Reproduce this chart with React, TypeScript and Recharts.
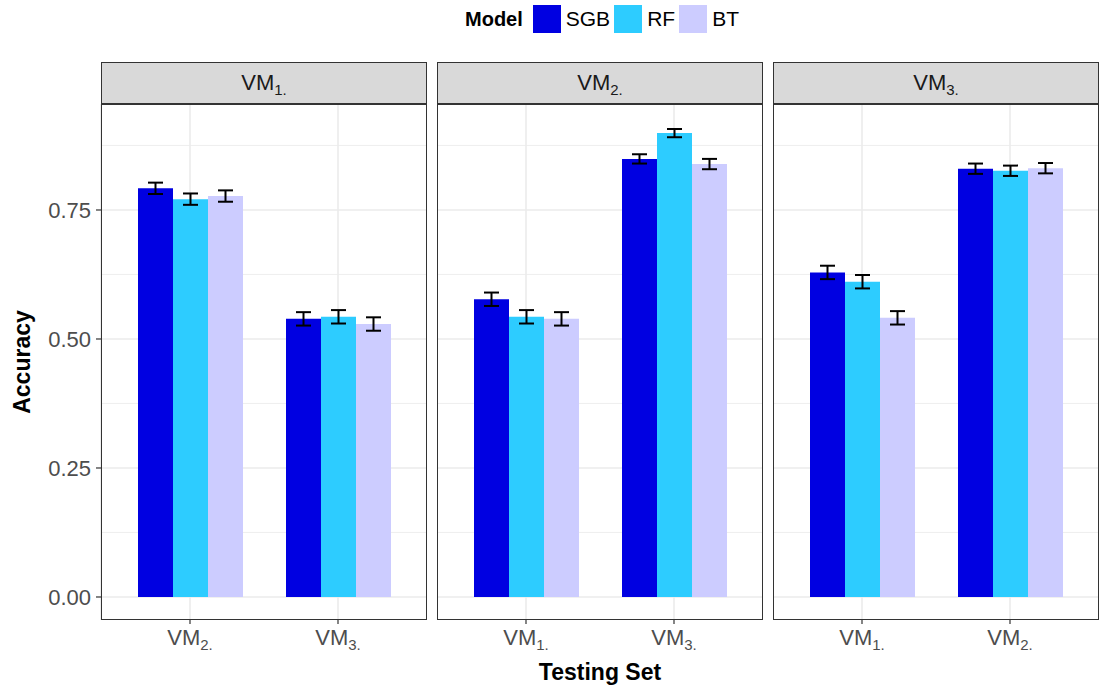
import React from 'react';
import {
  BarChart, Bar, XAxis, YAxis, CartesianGrid, ErrorBar,
} from 'recharts';

// facet = validation model, x = testing set; subscript part of each "VM" label
const facets = ['1.', '2.', '3.'];
const testingSets = [['2.', '3.'], ['1.', '3.'], ['1.', '2.']];

const sgb = [[0.792, 0.539], [0.577, 0.849], [0.629, 0.830]];
const rf = [[0.771, 0.543], [0.543, 0.899], [0.611, 0.826]];
const bt = [[0.777, 0.529], [0.539, 0.839], [0.541, 0.831]];

const sgbErr = [[0.011, 0.013], [0.013, 0.009], [0.013, 0.010]];
const rfErr = [[0.011, 0.013], [0.013, 0.008], [0.013, 0.010]];
const btErr = [[0.011, 0.013], [0.013, 0.010], [0.013, 0.010]];

const majorTicks = [0, 0.25, 0.5, 0.75];
const minorTicks = [0.125, 0.375, 0.625, 0.875];

const models = [
  { key: 'SGB', color: '#0000E1' },
  { key: 'RF', color: '#2DCCFF' },
  { key: 'BT', color: '#CCCCFF' },
];

const FONT = '"Liberation Sans", Arimo, Helvetica, Arial, sans-serif';
const Y_DOMAIN: [number, number] = [-0.0446, 0.9554];

const PLOT_TOP = 104;
const PLOT_H = 516;
const X_AXIS_H = 40;
const PANEL_W = 326;
const panelLeft = [101, 437, 773];

function rowsFor(i: number) {
  return testingSets[i].map((s, j) => ({
    set: s,
    SGB: sgb[i][j], SGBErr: sgbErr[i][j],
    RF: rf[i][j], RFErr: rfErr[i][j],
    BT: bt[i][j], BTErr: btErr[i][j],
  }));
}

function VMTick({ x, y, payload }: any) {
  return (
    <text x={x} y={y} dy={19} textAnchor="middle" fill="#4D4D4D" fontSize={22} fontFamily={FONT}>
      VM<tspan dy={5} fontSize={15}>{payload.value}</tspan>
    </text>
  );
}

function Panel({ i }: { i: number }) {
  const withAxis = i === 0;
  const yW = withAxis ? panelLeft[0] : 0;
  return (
    <div style={{ position: 'absolute', left: panelLeft[i] - yW, top: PLOT_TOP }}>
      <BarChart
        width={PANEL_W + yW}
        height={PLOT_H + X_AXIS_H}
        data={rowsFor(i)}
        margin={{ top: 0, right: 0, bottom: 0, left: 0 }}
        barCategoryGap={22}
        barGap={0}
      >
        <CartesianGrid stroke="#EBEBEB" strokeWidth={0.8} horizontalValues={minorTicks} vertical={false} />
        <CartesianGrid stroke="#EBEBEB" strokeWidth={1.6} horizontalValues={majorTicks} />
        <XAxis
          dataKey="set"
          padding={{ left: 15, right: 15 }}
          height={X_AXIS_H}
          axisLine={false}
          tickSize={4}
          tickMargin={2}
          tickLine={{ stroke: '#333333', strokeWidth: 1.2 }}
          tick={<VMTick />}
        />
        <YAxis
          hide={!withAxis}
          width={yW || 60}
          domain={Y_DOMAIN}
          allowDataOverflow
          ticks={majorTicks}
          tickFormatter={(v: number) => v.toFixed(2)}
          axisLine={false}
          tickSize={5}
          tickMargin={5}
          tickLine={{ stroke: '#333333', strokeWidth: 1.2 }}
          tick={{ fill: '#4D4D4D', fontSize: 22, fontFamily: FONT }}
        />
        {models.map(m => (
          <Bar key={m.key} dataKey={m.key} fill={m.color} isAnimationActive={false}>
            <ErrorBar dataKey={`${m.key}Err`} width={7.5} strokeWidth={2} stroke="#000000" direction="y" />
          </Bar>
        ))}
      </BarChart>
      <div style={{
        position: 'absolute', left: yW, top: 0, width: PANEL_W, height: PLOT_H,
        border: '1px solid #333333', boxSizing: 'border-box', pointerEvents: 'none',
      }} />
    </div>
  );
}

function Strip({ i }: { i: number }) {
  return (
    <div style={{
      position: 'absolute', left: panelLeft[i], top: 62, width: PANEL_W, height: 42,
      background: '#D9D9D9', border: '1px solid #333333', boxSizing: 'border-box',
      display: 'flex', alignItems: 'center', justifyContent: 'center',
      fontSize: 22, color: '#1A1A1A',
    }}>
      <span>VM<span style={{ fontSize: 15, position: 'relative', top: 5 }}>{facets[i]}</span></span>
    </div>
  );
}

export default function App() {
  return (
    <div style={{
      position: 'absolute', left: 0, top: 0, width: 1101, height: 689,
      background: '#FFFFFF', fontFamily: FONT, overflow: 'hidden',
    }}>
      {/* legend */}
      <div style={{
        position: 'absolute', left: 465, top: 5, height: 28,
        display: 'flex', alignItems: 'center', color: '#000000',
      }}>
        <span style={{ fontSize: 20, fontWeight: 'bold', marginRight: 10 }}>Model</span>
        {models.map(m => (
          <React.Fragment key={m.key}>
            <span style={{ width: 28, height: 28, background: m.color, display: 'inline-block' }} />
            <span style={{ fontSize: 21, marginLeft: 5, marginRight: 4 }}>{m.key}</span>
          </React.Fragment>
        ))}
      </div>

      {facets.map((_, i) => <Strip key={`s${i}`} i={i} />)}
      {facets.map((_, i) => <Panel key={`p${i}`} i={i} />)}

      <div style={{
        position: 'absolute', left: 22, top: 362, transform: 'translate(-50%, -50%) rotate(-90deg)',
        fontSize: 23, fontWeight: 'bold', whiteSpace: 'nowrap',
      }}>Accuracy</div>
      <div style={{
        position: 'absolute', left: 600, top: 672, transform: 'translate(-50%, -50%)',
        fontSize: 23, fontWeight: 'bold', whiteSpace: 'nowrap',
      }}>Testing Set</div>
    </div>
  );
}
